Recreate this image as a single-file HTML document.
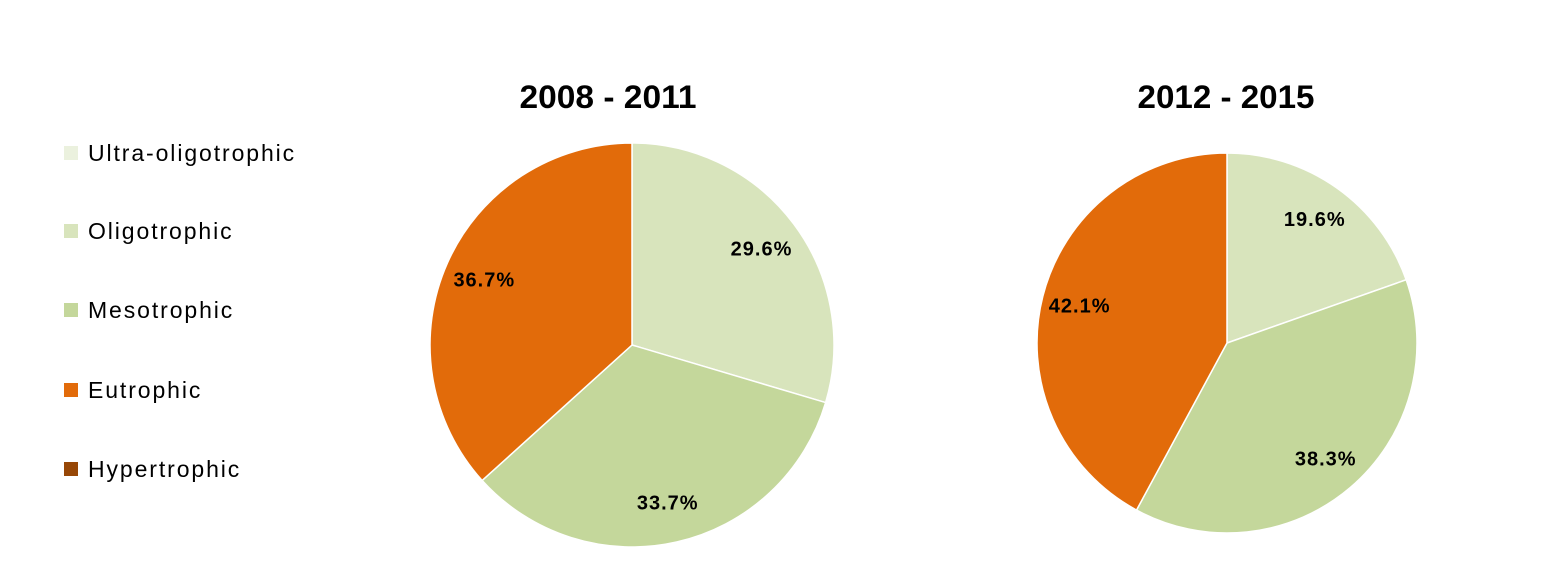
<!DOCTYPE html>
<html><head><meta charset="utf-8"><style>
body{margin:0;background:#fff;}
svg{display:block;font-family:"Liberation Sans",Arial,sans-serif;}
</style></head><body>
<svg id="chart" width="1544" height="578" viewBox="0 0 1544 578">
<g id="legend"></g>
<g id="pies"></g>
</svg>
<script>
const categories=["Ultra-oligotrophic","Oligotrophic","Mesotrophic","Eutrophic","Hypertrophic"];
const colors=["#ebf1de","#d8e4bc","#c4d79b","#e26b0a","#974706"];
const periods=["2008 - 2011","2012 - 2015"];
const values1=[0,29.6,33.7,36.7,0];
const values2=[0,19.6,38.3,42.1,0];
const seriesValues=[values1,values2];
const NS="http://www.w3.org/2000/svg";
const lg=document.getElementById('legend');
const pies=document.getElementById('pies');
const legendY=[153,231,310,390,469];
categories.forEach((c,i)=>{
  const r=document.createElementNS(NS,'rect');
  r.setAttribute('x',64);r.setAttribute('y',legendY[i]-7);r.setAttribute('width',14);r.setAttribute('height',14);r.setAttribute('fill',colors[i]);
  
  
  lg.appendChild(r);
  const t=document.createElementNS(NS,'text');
  t.setAttribute('x',88);t.setAttribute('y',legendY[i]+8);t.setAttribute('font-size','23');t.setAttribute('letter-spacing','1.9');t.setAttribute('fill','#000');
  t.textContent=c;
  
  
  lg.appendChild(t);
});
const geo=[{cx:632,cy:345,r:202,tx:608},{cx:1227,cy:343,r:190,tx:1226}];
seriesValues.forEach((vals,p)=>{
  const g=geo[p];
  const grp=document.createElementNS(NS,'g');
  
  
  pies.appendChild(grp);
  const title=document.createElementNS(NS,'text');
  title.setAttribute('x',g.tx);title.setAttribute('y',108);title.setAttribute('text-anchor','middle');
  title.setAttribute('font-size','32');title.setAttribute('font-weight','bold');
  title.setAttribute('textLength','177');title.setAttribute('lengthAdjust','spacingAndGlyphs');
  title.textContent=periods[p];
  
  
  grp.appendChild(title);
  const total=vals.reduce((a,b)=>a+b,0);
  let acc=0;
  const pt=(f,rr)=>{const a=f*2*Math.PI;return [g.cx+rr*Math.sin(a),g.cy-rr*Math.cos(a)];};
  vals.forEach((v,i)=>{
    if(v<=0)return;
    const f0=acc/total,f1=(acc+v)/total;acc+=v;
    const [x0,y0]=pt(f0,g.r),[x1,y1]=pt(f1,g.r);
    const path=document.createElementNS(NS,'path');
    path.setAttribute('d',`M${g.cx},${g.cy}L${x0},${y0}A${g.r},${g.r} 0 ${f1-f0>0.5?1:0} 1 ${x1},${y1}Z`);
    path.setAttribute('fill',colors[i]);path.setAttribute('stroke','#fff');path.setAttribute('stroke-width','1.5');
    
    
    grp.appendChild(path);
    const [lx,ly]=pt((f0+f1)/2,g.r*0.8);
    const t=document.createElementNS(NS,'text');
    t.setAttribute('x',lx);t.setAttribute('y',ly+7);t.setAttribute('text-anchor','middle');
    t.setAttribute('font-size','20');t.setAttribute('font-weight','bold');t.setAttribute('letter-spacing','1');
    t.textContent=v.toFixed(1)+'%';
    
    
    grp.appendChild(t);
  });
});
</script>
</body></html>
